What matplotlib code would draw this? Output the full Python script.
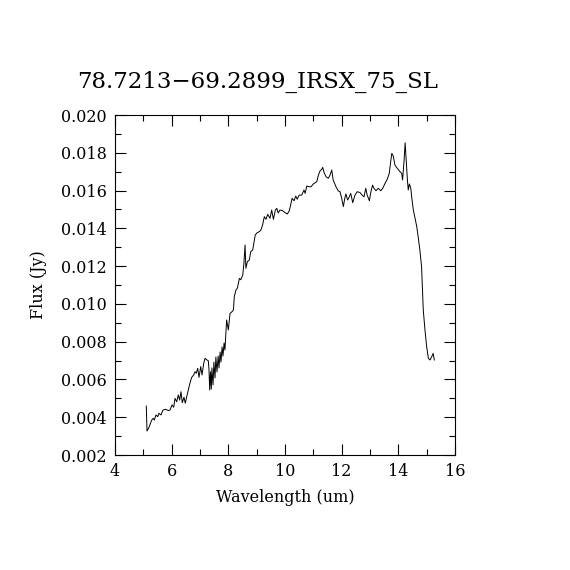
import matplotlib
matplotlib.use("Agg")
import matplotlib.pyplot as plt
from matplotlib.ticker import MultipleLocator, FormatStrFormatter

title = "78.7213\u221269.2899_IRSX_75_SL"

wavelength = [
    5.105, 5.13, 5.20, 5.295, 5.352, 5.387, 5.447, 5.507, 5.553, 5.624,
    5.694, 5.789, 5.881, 5.941, 6.012, 6.072, 6.118, 6.178, 6.234, 6.283,
    6.329, 6.375, 6.435, 6.481, 6.531, 6.587, 6.658, 6.707, 6.778, 6.823,
    6.869, 6.919, 6.965, 7.025, 7.071, 7.131, 7.176, 7.247, 7.293, 7.318,
    7.342, 7.37, 7.399, 7.42, 7.46, 7.49, 7.53, 7.56, 7.60, 7.64,
    7.67, 7.71, 7.74, 7.78, 7.81, 7.85, 7.88, 7.94, 8.00, 8.06,
    8.12, 8.18, 8.21, 8.27, 8.32, 8.39, 8.44, 8.51, 8.55, 8.59,
    8.62, 8.67, 8.74, 8.79, 8.86, 8.91, 8.95, 9.02, 9.09, 9.15,
    9.21, 9.27, 9.33, 9.39, 9.47, 9.53, 9.59, 9.66, 9.71, 9.76,
    9.82, 9.92, 10.00, 10.08, 10.15, 10.20, 10.25, 10.32, 10.38, 10.43,
    10.50, 10.59, 10.67, 10.71, 10.77, 10.86, 10.92, 11.00, 11.12, 11.18,
    11.24, 11.30, 11.33, 11.38, 11.45, 11.53, 11.59, 11.65, 11.70, 11.80,
    11.88, 11.94, 12.00, 12.06, 12.11, 12.15, 12.21, 12.27, 12.32, 12.39,
    12.47, 12.55, 12.65, 12.72, 12.79, 12.85, 12.90, 12.98, 13.02, 13.09,
    13.14, 13.21, 13.29, 13.38, 13.45, 13.53, 13.61, 13.68, 13.73, 13.77,
    13.82, 13.88, 13.96, 14.06, 14.12, 14.15, 14.20, 14.24, 14.27, 14.32,
    14.35, 14.39, 14.44, 14.47, 14.53, 14.59, 14.65, 14.70, 14.76, 14.82,
    14.88, 14.94, 15.00, 15.06, 15.12, 15.18, 15.23, 15.27,
]

flux = [
    0.00459, 0.00327, 0.00347, 0.00385, 0.00394, 0.00385, 0.00412, 0.00403, 0.00421, 0.00412,
    0.00438, 0.00442, 0.00435, 0.00438, 0.00465, 0.00453, 0.00500, 0.00482, 0.00518, 0.00491,
    0.00535, 0.00477, 0.00506, 0.00474, 0.00509, 0.00544, 0.00588, 0.00611, 0.00624, 0.00641,
    0.00633, 0.00659, 0.00611, 0.00668, 0.00624, 0.00685, 0.00712, 0.00703, 0.00699, 0.00650,
    0.00544, 0.00640, 0.00549, 0.00661, 0.00571, 0.00692, 0.00608, 0.00719, 0.00640, 0.00724,
    0.00661, 0.00745, 0.00692, 0.00772, 0.00724, 0.00793, 0.00756, 0.00915, 0.00862, 0.00950,
    0.00957, 0.00968, 0.01038, 0.01074, 0.01084, 0.01135, 0.01128, 0.01153, 0.01215, 0.01312,
    0.01188, 0.01223, 0.01232, 0.01276, 0.01285, 0.01329, 0.01365, 0.01377, 0.01382, 0.01391,
    0.01418, 0.01462, 0.01448, 0.01474, 0.01453, 0.01497, 0.01448, 0.01497, 0.01506, 0.01481,
    0.01497, 0.01493, 0.01483, 0.01476, 0.01492, 0.01524, 0.01559, 0.01546, 0.01571, 0.01554,
    0.01576, 0.01576, 0.01603, 0.01585, 0.01624, 0.01620, 0.01620, 0.01635, 0.01647, 0.01682,
    0.01705, 0.01713, 0.01723, 0.01695, 0.01673, 0.01665, 0.01682, 0.01709, 0.01656, 0.01620,
    0.01598, 0.01594, 0.01559, 0.01515, 0.01559, 0.01582, 0.01550, 0.01567, 0.01585, 0.01536,
    0.01576, 0.01594, 0.01589, 0.01576, 0.01567, 0.01612, 0.01576, 0.01546, 0.01585, 0.01629,
    0.01612, 0.01599, 0.01612, 0.01599, 0.01612, 0.01638, 0.01660, 0.01691, 0.01753, 0.01797,
    0.01783, 0.01735, 0.01718, 0.01700, 0.01691, 0.01656, 0.01753, 0.01853, 0.01779, 0.01656,
    0.01603, 0.01635, 0.01612, 0.01568, 0.01497, 0.01453, 0.01409, 0.01356, 0.01285, 0.01197,
    0.00968, 0.00862, 0.00773, 0.00712, 0.00703, 0.00721, 0.00738, 0.00703,
]

plt.rcParams["font.family"] = ["DejaVu Serif"]

fig = plt.figure(figsize=(5.7, 5.7), dpi=100)
ax = fig.add_axes([115 / 570, 115 / 570, 340 / 570, 340 / 570])

ax.plot(wavelength, flux, color="black", lw=0.7)

ax.set_xlim(4, 16)
ax.set_ylim(0.002, 0.020)
ax.xaxis.set_major_locator(MultipleLocator(2))
ax.xaxis.set_minor_locator(MultipleLocator(1))
ax.yaxis.set_major_locator(MultipleLocator(0.002))
ax.yaxis.set_minor_locator(MultipleLocator(0.001))
ax.yaxis.set_major_formatter(FormatStrFormatter("%.3f"))
ax.tick_params(which="both", direction="in", top=True, right=True,
               labelsize=11.5, width=0.8)
ax.tick_params(which="major", length=8, pad=6)
ax.tick_params(which="minor", length=4)
for s in ax.spines.values():
    s.set_linewidth(0.8)

ax.set_xlabel("Wavelength (um)", fontsize=11.5, labelpad=6)
ax.set_ylabel("Flux (Jy)", fontsize=11.5, labelpad=10)
fig.text(258 / 570, 1 - 82 / 570, title, ha="center", va="center", fontsize=16.5)

fig.savefig("out.png", dpi=100)
